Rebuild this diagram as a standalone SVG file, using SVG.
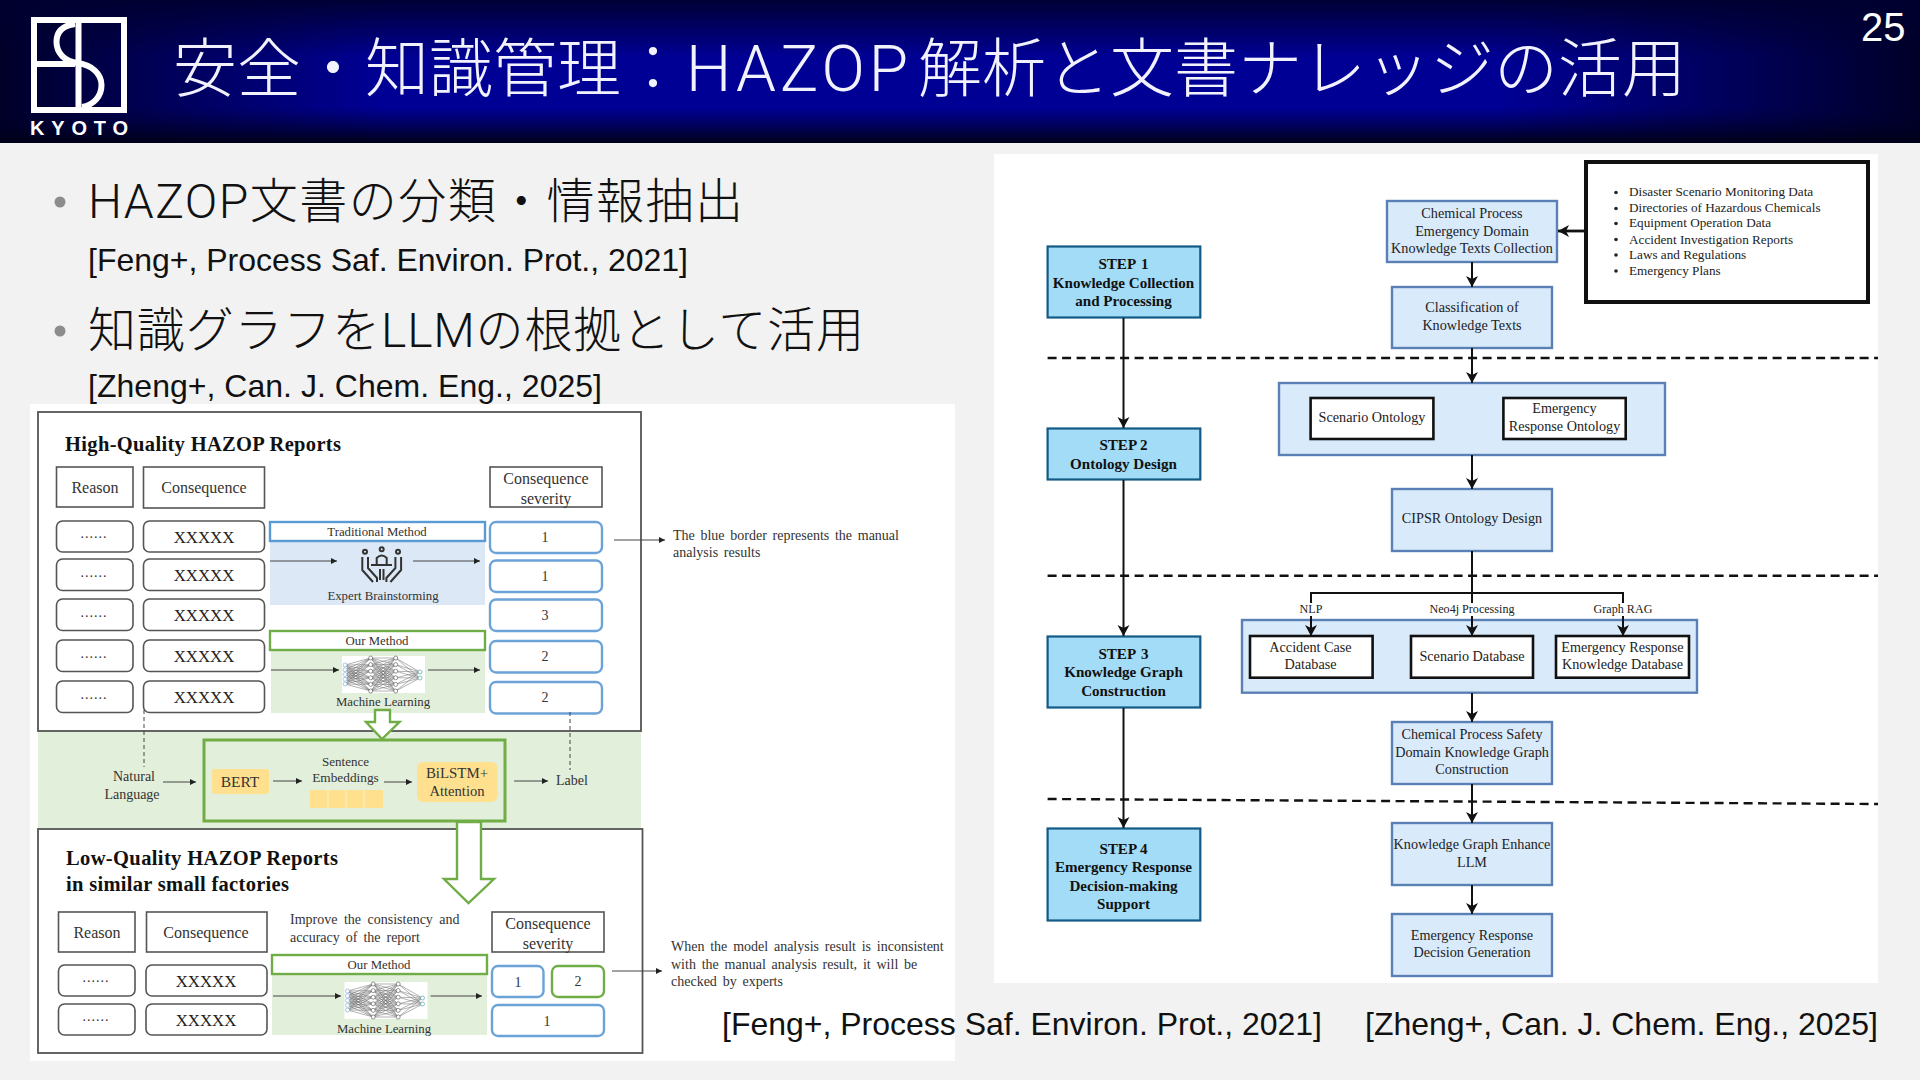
<svg xmlns="http://www.w3.org/2000/svg" width="1920" height="1080" viewBox="0 0 1920 1080">
<style>
.sans{font-family:"Liberation Sans","Noto Sans CJK JP",sans-serif}
.lite{font-family:Roboto,"Noto Sans CJK JP",sans-serif;font-weight:300}
.bul{font-size:48px;fill:#111}
.cit{font-size:32px;fill:#111}
.se{font-family:"Liberation Serif","Times New Roman",serif;fill:#333;font-size:14px}
.m{text-anchor:middle}
.b{font-weight:bold;fill:#111}
.t{font-size:20.5px}
.lg{font-size:16px}
.xl{font-size:16.8px;fill:#222}
.dots{font-size:14px;letter-spacing:1px}
.ml{font-size:12.8px}
.hd{fill:#fff;stroke:#555;stroke-width:1.6}
.rr{fill:#fff;stroke:#555;stroke-width:1.6}
.bl{fill:#fff;stroke:#6ba3d8;stroke-width:2.4}
.gr{fill:#fff;stroke:#70ad47;stroke-width:2.4}
.frame{fill:none;stroke:#555;stroke-width:1.8}
.ye{fill:#ffe08f}
.step{fill:#a3dcf6;stroke:#125a85;stroke-width:2.2}
.stept{font-size:15.1px}
.pb{fill:#d9eafb;stroke:#5a80b5;stroke-width:2.4}
.wb{fill:#fff;stroke:#111;stroke-width:2.6}
.r{font-size:14.2px;fill:#222}
.lst{font-size:13.2px;fill:#222}
.flow{font-size:12.1px;fill:#222}
.thin{stroke:#444;stroke-width:1;fill:none;marker-end:url(#ah)}
.fl{stroke:#111;stroke-width:2;fill:none;marker-end:url(#ab)}
.ln{stroke:#111;stroke-width:2;fill:none}
.dash{stroke:#111;stroke-width:2.4;stroke-dasharray:9 5.5;fill:none}
.vd{stroke:#444;stroke-width:1;stroke-dasharray:4 3;fill:none}
.hol{fill:#fff;stroke:#70ad47;stroke-width:2.4}
</style>
<defs>
<marker id="ah" markerUnits="userSpaceOnUse" markerWidth="7" markerHeight="6" refX="6" refY="3" orient="auto"><path d="M0 0L6 3L0 6z" fill="#222"/></marker>
<marker id="ab" markerUnits="userSpaceOnUse" markerWidth="12" markerHeight="14" refX="11" refY="6" orient="auto"><path d="M0 0L11 6L0 12L3 6z" fill="#111"/></marker>
<linearGradient id="gh" x1="0" x2="1" y1="0" y2="0"><stop offset="0" stop-color="#000028"/><stop offset="0.04" stop-color="#000030" stop-opacity=".85"/><stop offset="0.2" stop-color="#000030" stop-opacity="0.1"/><stop offset="0.78" stop-color="#000030" stop-opacity="0.1"/><stop offset="1" stop-color="#000028"/></linearGradient>
<linearGradient id="gv" x1="0" x2="0" y1="0" y2="1"><stop offset="0" stop-color="#000030" stop-opacity=".95"/><stop offset="0.4" stop-color="#000030" stop-opacity="0"/><stop offset="0.75" stop-color="#000030" stop-opacity="0"/><stop offset="1" stop-color="#000018"/></linearGradient>
<g id="nn">
<rect width="83" height="37" fill="#fff"/>
<path stroke="#666" stroke-width=".5" fill="none" d="M3 9L28.7 2M3 9L28.7 8.6M3 9L28.7 15.2M3 9L28.7 21.8M3 9L28.7 28.4M3 9L28.7 35M3 13.75L28.7 2M3 13.75L28.7 8.6M3 13.75L28.7 15.2M3 13.75L28.7 21.8M3 13.75L28.7 28.4M3 13.75L28.7 35M3 18.5L28.7 2M3 18.5L28.7 8.6M3 18.5L28.7 15.2M3 18.5L28.7 21.8M3 18.5L28.7 28.4M3 18.5L28.7 35M3 23.25L28.7 2M3 23.25L28.7 8.6M3 23.25L28.7 15.2M3 23.25L28.7 21.8M3 23.25L28.7 28.4M3 23.25L28.7 35M3 28L28.7 2M3 28L28.7 8.6M3 28L28.7 15.2M3 28L28.7 21.8M3 28L28.7 28.4M3 28L28.7 35M28.7 2L53.7 2M28.7 2L53.7 8.6M28.7 2L53.7 15.2M28.7 2L53.7 21.8M28.7 2L53.7 28.4M28.7 2L53.7 35M28.7 8.6L53.7 2M28.7 8.6L53.7 8.6M28.7 8.6L53.7 15.2M28.7 8.6L53.7 21.8M28.7 8.6L53.7 28.4M28.7 8.6L53.7 35M28.7 15.2L53.7 2M28.7 15.2L53.7 8.6M28.7 15.2L53.7 15.2M28.7 15.2L53.7 21.8M28.7 15.2L53.7 28.4M28.7 15.2L53.7 35M28.7 21.8L53.7 2M28.7 21.8L53.7 8.6M28.7 21.8L53.7 15.2M28.7 21.8L53.7 21.8M28.7 21.8L53.7 28.4M28.7 21.8L53.7 35M28.7 28.4L53.7 2M28.7 28.4L53.7 8.6M28.7 28.4L53.7 15.2M28.7 28.4L53.7 21.8M28.7 28.4L53.7 28.4M28.7 28.4L53.7 35M28.7 35L53.7 2M28.7 35L53.7 8.6M28.7 35L53.7 15.2M28.7 35L53.7 21.8M28.7 35L53.7 28.4M28.7 35L53.7 35M53.7 2L78 16M53.7 8.6L78 16M53.7 15.2L78 16M53.7 21.8L78 16M53.7 28.4L78 16M53.7 35L78 16M53.7 2L78 22M53.7 8.6L78 22M53.7 15.2L78 22M53.7 21.8L78 22M53.7 28.4L78 22M53.7 35L78 22"/>
<g fill="#fff" stroke="#8ab0dc" stroke-width=".7"><circle cx="3" cy="9" r="2"/><circle cx="3" cy="13.75" r="2"/><circle cx="3" cy="18.5" r="2"/><circle cx="3" cy="23.25" r="2"/><circle cx="3" cy="28" r="2"/></g>
<g fill="#fff" stroke="#666" stroke-width=".7"><circle cx="28.7" cy="2" r="2"/><circle cx="28.7" cy="8.6" r="2"/><circle cx="28.7" cy="15.2" r="2"/><circle cx="28.7" cy="21.8" r="2"/><circle cx="28.7" cy="28.4" r="2"/><circle cx="28.7" cy="35" r="2"/><circle cx="53.7" cy="2" r="2"/><circle cx="53.7" cy="8.6" r="2"/><circle cx="53.7" cy="15.2" r="2"/><circle cx="53.7" cy="21.8" r="2"/><circle cx="53.7" cy="28.4" r="2"/><circle cx="53.7" cy="35" r="2"/></g>
<g fill="#fff" stroke="#5aa" stroke-width=".7"><circle cx="78" cy="16" r="2"/><circle cx="78" cy="22" r="2"/></g>
</g>
</defs>
<rect width="1920" height="1080" fill="#f2f2f2"/>
<g id="header">
<rect width="1920" height="143" fill="#0000a0"/>
<rect width="1920" height="143" fill="url(#gh)"/>
<rect width="1920" height="143" fill="url(#gv)"/>
<g id="logo" fill="none" stroke="#fff" stroke-width="6">
<rect x="34" y="20" width="90" height="90"/>
<path d="M78.500 20V110"/>
<path d="M34 64H75"/>
<path d="M75 24C60 26 56.500 34 56.500 42C56.500 52 64 62 78 63C92 65 101.500 74 101.500 85C101.500 96 94 105 82 107"/>
</g>
<text class="sans b" x="30" y="134.500" font-size="20" textLength="98" style="fill:#fff">KYOTO</text>
<text class="lite" x="173" y="91" font-size="64" fill="#f2f2ff">安全・知識管理：<tspan x="686" letter-spacing="4">HAZOP</tspan><tspan x="918">解析と文書ナレッジの活用</tspan></text>
<text class="sans" x="1861" y="41" font-size="40" fill="#fff">25</text>
</g>
<g id="bullets">
<circle cx="60" cy="202" r="5.500" fill="#8c8c8c"/>
<text class="lite bul" x="88" y="218" textLength="655">HAZOP文書の分類・情報抽出</text>
<text class="sans cit" x="88" y="271" textLength="600">[Feng+, Process Saf. Environ. Prot., 2021]</text>
<circle cx="60" cy="331" r="5.500" fill="#8c8c8c"/>
<text class="lite bul" x="88" y="347" textLength="776">知識グラフをLLMの根拠として活用</text>
<text class="sans cit" x="88" y="397" textLength="514">[Zheng+, Can. J. Chem. Eng., 2025]</text>
</g>
<rect id="fig-left-bg" x="30" y="404" width="925" height="657" fill="#fff"/>
<rect id="fig-right-bg" x="994" y="154" width="884" height="829" fill="#fff"/>

<g id="band"><rect x="38" y="731" width="603" height="97" fill="#e2efda"/></g>
<g id="top-report">
<rect class="frame" x="38" y="412" width="603" height="319"/>
<text class="se b t" x="65" y="451" textLength="276">High-Quality HAZOP Reports</text>
<rect class="hd" x="56.500" y="467" width="76.500" height="40"/><text class="se lg m" x="95" y="493">Reason</text>
<rect class="hd" x="143.500" y="467" width="121" height="41"/><text class="se lg m" x="204" y="493">Consequence</text>
<rect class="hd" x="490" y="467" width="112" height="40"/><text class="se lg m" x="546" y="484">Consequence</text><text class="se lg m" x="546" y="504">severity</text>
<g id="top-rows">
<rect class="rr" x="56.500" y="521" width="76.500" height="31" rx="6"/><rect class="rr" x="143.500" y="521" width="121" height="31" rx="6"/><text class="se dots m" x="94" y="537.500">......</text><text class="se xl m" x="204" y="543">XXXXX</text>
<rect class="rr" x="56.500" y="559" width="76.500" height="31.500" rx="6"/><rect class="rr" x="143.500" y="559" width="121" height="31.500" rx="6"/><text class="se dots m" x="94" y="576.500">......</text><text class="se xl m" x="204" y="581">XXXXX</text>
<rect class="rr" x="56.500" y="599" width="76.500" height="31.500" rx="6"/><rect class="rr" x="143.500" y="599" width="121" height="31.500" rx="6"/><text class="se dots m" x="94" y="616.500">......</text><text class="se xl m" x="204" y="621">XXXXX</text>
<rect class="rr" x="56.500" y="640" width="76.500" height="31.500" rx="6"/><rect class="rr" x="143.500" y="640" width="121" height="31.500" rx="6"/><text class="se dots m" x="94" y="657.500">......</text><text class="se xl m" x="204" y="662">XXXXX</text>
<rect class="rr" x="56.500" y="681" width="76.500" height="31.500" rx="6"/><rect class="rr" x="143.500" y="681" width="121" height="31.500" rx="6"/><text class="se dots m" x="94" y="698.500">......</text><text class="se xl m" x="204" y="703">XXXXX</text>
</g>
<g id="top-severity">
<rect class="bl" x="490" y="522" width="112" height="31" rx="6"/><text class="se m" x="545" y="542">1</text>
<rect class="bl" x="490" y="560.500" width="112" height="31.500" rx="6"/><text class="se m" x="545" y="581">1</text>
<rect class="bl" x="490" y="599.500" width="112" height="31.500" rx="6"/><text class="se m" x="545" y="620">3</text>
<rect class="bl" x="490" y="641" width="112" height="31.500" rx="6"/><text class="se m" x="545" y="661">2</text>
<rect class="bl" x="490" y="682" width="112" height="31.500" rx="6"/><text class="se m" x="545" y="702">2</text>
</g>
<g id="traditional">
<rect x="270" y="541" width="215" height="64" fill="#dce8f5"/>
<rect x="270" y="522" width="215" height="19" fill="#fff" stroke="#5b9bd5" stroke-width="2.400"/>
<text class="se ml m" x="377" y="536">Traditional Method</text>
<g id="people" fill="none" stroke="#333" stroke-width="2">
<circle cx="365" cy="551.700" r="2"/><circle cx="381.700" cy="549.300" r="2"/><circle cx="398" cy="551.700" r="2"/>
<path d="M362.300 557V570L373 582M368 557V568L377 578V582M401.100 557V570L390.400 582M395.400 557V568L386.400 578V582M376.700 565V558Q381.700 553 386.700 558V565M371 565H392M380 569V580M383.500 569V580"/>
</g>
<text class="se ml m" x="383" y="600">Expert Brainstorming</text>
</g>
<g id="our-method-top">
<rect x="271" y="650" width="214" height="63" fill="#e2efda"/>
<rect x="270" y="631" width="215" height="19" fill="#fff" stroke="#70ad47" stroke-width="2.400"/>
<text class="se ml m" x="377" y="645">Our Method</text>
<use href="#nn" x="342" y="656"/>
<text class="se ml m" x="383" y="706">Machine Learning</text>
</g>
</g>
<g id="note-1"><text class="se" x="673" y="540" word-spacing="2.200">The blue border represents the manual</text><text class="se" x="673" y="557" word-spacing="2.200">analysis results</text></g>
<g id="model">
<rect x="204" y="740" width="301" height="81" fill="#e2efda" stroke="#70ad47" stroke-width="3"/>
<text class="se m" x="134" y="781">Natural</text><text class="se m" x="132" y="799">Language</text>
<rect class="ye" x="212" y="769" width="57" height="25" rx="3"/><text class="se m" x="240" y="787" style="font-size:15.500px">BERT</text>
<text class="se m" x="345.500" y="766" style="font-size:13px">Sentence</text><text class="se m" x="345.500" y="782" style="font-size:13.300px">Embeddings</text>
<g id="embed"><rect class="ye" x="310" y="790" width="73" height="18"/><path d="M328 790V808M346 790V808M364 790V808" stroke="#fff0c8" stroke-width="1"/></g>
<rect class="ye" x="417" y="762" width="80.500" height="40" rx="6"/><text class="se m" x="457" y="778" style="font-size:14.900px">BiLSTM+</text><text class="se m" x="457" y="796" style="font-size:14.600px">Attention</text>
<text class="se" x="556" y="785">Label</text>
</g>
<g id="low-report">
<rect class="frame" x="38" y="829" width="604.500" height="224"/>
<text class="se b t" x="66" y="865" textLength="272">Low-Quality HAZOP Reports</text>
<text class="se b t" x="66" y="891" textLength="223">in similar small factories</text>
<rect class="hd" x="58.500" y="912" width="76.500" height="40"/><text class="se lg m" x="97" y="938">Reason</text>
<rect class="hd" x="146.500" y="912" width="120.500" height="40"/><text class="se lg m" x="206" y="938">Consequence</text>
<rect class="hd" x="492" y="912" width="112" height="40"/><text class="se lg m" x="548" y="929">Consequence</text><text class="se lg m" x="548" y="949">severity</text>
<text class="se" x="290" y="924" word-spacing="3">Improve the consistency and</text><text class="se" x="290" y="942" word-spacing="2.500">accuracy of the report</text>
<rect class="rr" x="58.500" y="965" width="76.500" height="31" rx="6"/><rect class="rr" x="146" y="965" width="121" height="31" rx="6"/><text class="se dots m" x="96" y="982">......</text><text class="se xl m" x="206" y="987">XXXXX</text>
<rect class="rr" x="58.500" y="1004" width="76.500" height="31" rx="6"/><rect class="rr" x="146" y="1004" width="121" height="31" rx="6"/><text class="se dots m" x="96" y="1021">......</text><text class="se xl m" x="206" y="1026">XXXXX</text>
<g id="our-method-low">
<rect x="272" y="974" width="215" height="61" fill="#e2efda"/>
<rect x="272" y="955" width="215" height="19" fill="#fff" stroke="#70ad47" stroke-width="2.400"/>
<text class="se ml m" x="379" y="969">Our Method</text>
<use href="#nn" x="344.500" y="982"/>
<text class="se ml m" x="384" y="1033">Machine Learning</text>
</g>
<rect class="bl" x="492" y="966" width="51.500" height="31" rx="6"/><text class="se m" x="518" y="987">1</text>
<rect class="gr" x="552" y="966" width="52" height="31" rx="6"/><text class="se m" x="578" y="986">2</text>
<rect class="bl" x="492" y="1005" width="112" height="31" rx="6"/><text class="se m" x="547" y="1026">1</text>
</g>
<g id="note-2"><text class="se" x="671" y="951" word-spacing="2.300">When the model analysis result is inconsistent</text><text class="se" x="671" y="969" word-spacing="2.300">with the manual analysis result, it will be</text><text class="se" x="671" y="986" word-spacing="2.300">checked by experts</text></g>

<g id="connectors-left">
<path class="thin" d="M270 561H337"/><path class="thin" d="M413 561H480"/>
<path class="thin" d="M271 670H339"/><path class="thin" d="M428 670H480"/>
<path class="thin" d="M273 996H341"/><path class="thin" d="M430.500 996H482"/>
<path class="thin" d="M614 540H665"/><path class="thin" d="M612 971H662"/>
<path class="thin" d="M163 782H196"/><path class="thin" d="M273 781H302"/><path class="thin" d="M384 782H412"/><path class="thin" d="M514 781H548"/>
<path class="vd" d="M144 710V767"/><path class="vd" d="M570 712V770"/>
<path class="hol" d="M375 710H390V722H399.500L382 739L366 722H375z"/>
<path class="hol" d="M457 822H481V879H494L468.500 903L444 879H457z"/>
</g>

<g id="step-1"><rect class="step" x="1047.600" y="246.500" width="152.700" height="71"/><text class="se b stept m" x="1123.500" y="269" word-spacing="2">STEP 1</text><text class="se b stept m" x="1123.500" y="288">Knowledge Collection</text><text class="se b stept m" x="1123.500" y="306">and Processing</text></g>
<g id="step-2"><rect class="step" x="1047.600" y="428.500" width="152.700" height="51"/><text class="se b stept m" x="1123.500" y="450">STEP 2</text><text class="se b stept m" x="1123.500" y="469">Ontology Design</text></g>
<g id="step-3"><rect class="step" x="1047.600" y="636.500" width="152.700" height="71"/><text class="se b stept m" x="1123.500" y="659" word-spacing="2">STEP 3</text><text class="se b stept m" x="1123.500" y="677">Knowledge Graph</text><text class="se b stept m" x="1123.500" y="696">Construction</text></g>
<g id="step-4"><rect class="step" x="1047.600" y="828.500" width="152.700" height="92"/><text class="se b stept m" x="1123.500" y="854">STEP 4</text><text class="se b stept m" x="1123.500" y="872">Emergency Response</text><text class="se b stept m" x="1123.500" y="891">Decision-making</text><text class="se b stept m" x="1123.500" y="909">Support</text></g>

<g id="sources"><rect x="1586" y="162" width="282" height="140" fill="#fff" stroke="#111" stroke-width="4"/>
<g fill="#222"><circle cx="1616" cy="192.500" r="1.800"/><circle cx="1616" cy="208.500" r="1.800"/><circle cx="1616" cy="223.500" r="1.800"/><circle cx="1616" cy="239.500" r="1.800"/><circle cx="1616" cy="255" r="1.800"/><circle cx="1616" cy="271" r="1.800"/></g>
<text class="se lst" x="1629" y="196">Disaster Scenario Monitoring Data</text><text class="se lst" x="1629" y="212">Directories of Hazardous Chemicals</text><text class="se lst" x="1629" y="227">Equipment Operation Data</text><text class="se lst" x="1629" y="244">Accident Investigation Reports</text><text class="se lst" x="1629" y="259">Laws and Regulations</text><text class="se lst" x="1629" y="275">Emergency Plans</text></g>
<g id="collection"><rect class="pb" x="1387" y="201" width="170" height="61"/><text class="se r m" x="1472" y="218">Chemical Process</text><text class="se r m" x="1472" y="236">Emergency Domain</text><text class="se r m" x="1472" y="253">Knowledge Texts Collection</text></g>
<g id="classification"><rect class="pb" x="1392" y="287" width="160" height="61"/><text class="se r m" x="1472" y="312">Classification of</text><text class="se r m" x="1472" y="330">Knowledge Texts</text></g>
<g id="ontology"><rect class="pb" x="1279" y="383" width="386" height="72"/>
<rect class="wb" x="1310.600" y="398" width="122.800" height="41"/><text class="se r m" x="1372" y="422">Scenario Ontology</text>
<rect class="wb" x="1503.400" y="398" width="122.300" height="41"/><text class="se r m" x="1564.500" y="413">Emergency</text><text class="se r m" x="1564.500" y="431">Response Ontology</text></g>
<g id="cipsr"><rect class="pb" x="1392" y="489" width="160" height="62"/><text class="se r m" x="1472" y="523">CIPSR Ontology Design</text></g>
<g id="databases"><rect class="pb" x="1242" y="620" width="455" height="72.700"/>
<rect class="wb" x="1250" y="636" width="122.600" height="41.700"/><text class="se r m" x="1310.500" y="652">Accident Case</text><text class="se r m" x="1310.500" y="669">Database</text>
<rect class="wb" x="1411" y="636" width="122" height="41.700"/><text class="se r m" x="1472" y="661">Scenario Database</text>
<rect class="wb" x="1556" y="636" width="133" height="41.700"/><text class="se r m" x="1622.500" y="652">Emergency Response</text><text class="se r m" x="1622.500" y="669">Knowledge Database</text></g>
<g id="construction"><rect class="pb" x="1392" y="722" width="160" height="62"/><text class="se r m" x="1472" y="739">Chemical Process Safety</text><text class="se r m" x="1472" y="757">Domain Knowledge Graph</text><text class="se r m" x="1472" y="774">Construction</text></g>
<g id="enhance"><rect class="pb" x="1392" y="823" width="160" height="62"/><text class="se r m" x="1472" y="849">Knowledge Graph Enhance</text><text class="se r m" x="1472" y="867">LLM</text></g>
<g id="decision"><rect class="pb" x="1392" y="914" width="160" height="62"/><text class="se r m" x="1472" y="940">Emergency Response</text><text class="se r m" x="1472" y="957">Decision Generation</text></g>

<g id="connectors-right">
<path class="dash" d="M1047.600 358H1878"/><path class="dash" d="M1047.600 575.700H1878"/><path class="dash" d="M1047.600 799L1878 804"/>
<path class="fl" d="M1123.500 318V428"/><path class="fl" d="M1123.500 480V636"/><path class="fl" d="M1123.500 708V828"/>
<path class="fl" d="M1585 231H1558" style="stroke-width:2.800"/>
<path class="fl" d="M1472 262V287"/><path class="fl" d="M1472 348V383"/><path class="fl" d="M1472 455V489"/>
<path class="ln" d="M1472 551V593M1311 607V593H1623V607"/>
<path class="fl" d="M1311 593V636"/><path class="fl" d="M1472 593V636"/><path class="fl" d="M1623 593V636"/>
<path class="fl" d="M1472 693V722"/><path class="fl" d="M1472 784V823"/><path class="fl" d="M1472 885V914"/>
</g>
<g id="flow-labels"><rect x="1298" y="603" width="26" height="13" fill="#fff"/><text class="se flow m" x="1311" y="613">NLP</text><rect x="1429" y="603" width="86" height="13" fill="#fff"/><text class="se flow m" x="1472" y="613">Neo4j Processing</text><rect x="1593" y="603" width="60" height="13" fill="#fff"/><text class="se flow m" x="1623" y="613">Graph RAG</text></g>

<g id="citations"><text class="sans cit" x="722" y="1035" textLength="600">[Feng+, Process Saf. Environ. Prot., 2021]</text><text class="sans cit" x="1365" y="1035" textLength="513">[Zheng+, Can. J. Chem. Eng., 2025]</text></g>
</svg>
